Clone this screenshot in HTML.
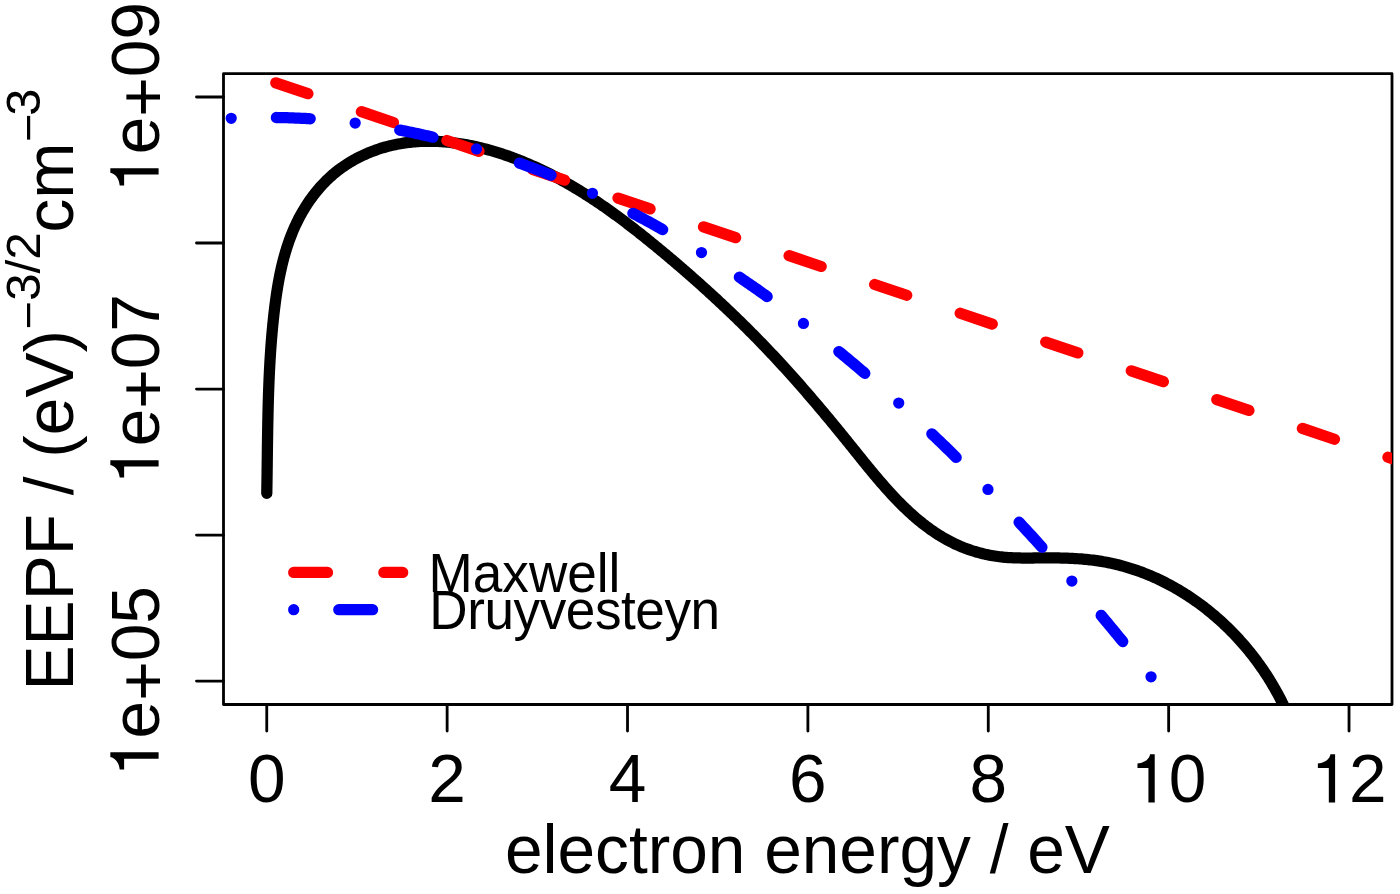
<!DOCTYPE html>
<html><head><meta charset="utf-8"><title>EEPF</title>
<style>html,body{margin:0;padding:0;background:#fff}svg{display:block}text{font-family:"Liberation Sans",sans-serif;fill:#000}</style></head><body>
<svg width="1400" height="894" viewBox="0 0 1400 894">
<rect width="1400" height="894" fill="#fff"/>
<defs><clipPath id="c"><rect x="223.50" y="73.65" width="1168.50" height="630.85"/></clipPath></defs>
<g clip-path="url(#c)" fill="none" stroke-linecap="round" stroke-linejoin="round">
<path d="M266.79 493.31 L266.82 491.60 L266.84 489.90 L266.87 488.19 L266.90 486.49 L266.93 484.78 L266.95 483.08 L266.98 481.37 L267.00 479.67 L267.03 477.97 L267.05 476.26 L267.08 474.56 L267.10 472.86 L267.12 471.15 L267.14 469.45 L267.17 467.75 L267.19 466.05 L267.21 464.35 L267.23 462.65 L267.25 460.94 L267.27 459.24 L267.29 457.54 L267.32 455.84 L267.34 454.14 L267.36 452.44 L267.38 450.75 L267.40 449.05 L267.42 447.35 L267.45 445.65 L267.47 443.95 L267.49 442.25 L267.52 440.55 L267.54 438.86 L267.57 437.16 L267.59 435.46 L267.62 433.76 L267.65 432.07 L267.67 430.37 L267.70 428.67 L267.73 426.98 L267.76 425.28 L267.79 423.59 L267.82 421.89 L267.86 420.19 L267.89 418.50 L267.93 416.80 L267.96 415.11 L268.00 413.41 L268.04 411.72 L268.08 410.02 L268.12 408.33 L268.16 406.63 L268.21 404.94 L268.25 403.24 L268.30 401.55 L268.35 399.86 L268.40 398.16 L268.45 396.47 L268.50 394.77 L268.56 393.08 L268.62 391.39 L268.68 389.69 L268.74 388.00 L268.80 386.30 L268.87 384.61 L268.93 382.92 L269.00 381.22 L269.07 379.53 L269.15 377.84 L269.22 376.14 L269.30 374.45 L269.38 372.76 L269.46 371.06 L269.55 369.37 L269.63 367.68 L269.72 365.98 L269.82 364.29 L269.91 362.60 L270.01 360.91 L270.11 359.21 L270.21 357.52 L270.32 355.83 L270.43 354.13 L270.54 352.44 L270.65 350.75 L270.77 349.05 L270.89 347.36 L271.01 345.67 L271.14 343.97 L271.27 342.28 L271.40 340.59 L271.54 338.89 L271.68 337.20 L271.82 335.51 L271.97 333.81 L272.12 332.12 L272.27 330.42 L272.43 328.73 L272.59 327.04 L272.75 325.34 L272.92 323.65 L273.09 321.95 L273.26 320.26 L273.44 318.56 L273.62 316.87 L273.81 315.17 L274.00 313.48 L274.19 311.78 L274.39 310.09 L274.59 308.39 L274.80 306.70 L275.01 305.00 L275.23 303.31 L275.45 301.62 L275.68 299.92 L275.91 298.23 L276.15 296.54 L276.40 294.85 L276.65 293.16 L276.91 291.47 L277.17 289.79 L277.44 288.10 L277.72 286.42 L278.01 284.74 L278.30 283.06 L278.60 281.38 L278.91 279.70 L279.23 278.03 L279.56 276.36 L279.89 274.69 L280.24 273.02 L280.59 271.36 L280.95 269.69 L281.32 268.04 L281.70 266.38 L282.09 264.73 L282.50 263.08 L282.91 261.43 L283.33 259.79 L283.76 258.15 L284.21 256.52 L284.66 254.89 L285.13 253.26 L285.61 251.64 L286.10 250.02 L286.60 248.40 L287.11 246.79 L287.64 245.18 L288.18 243.58 L288.73 241.99 L289.30 240.39 L289.88 238.81 L290.47 237.22 L291.08 235.65 L291.70 234.08 L292.33 232.51 L292.98 230.95 L293.64 229.39 L294.32 227.84 L295.01 226.30 L295.72 224.76 L296.45 223.23 L297.19 221.71 L297.94 220.19 L298.71 218.68 L299.50 217.17 L300.30 215.68 L301.11 214.19 L301.95 212.71 L302.79 211.24 L303.66 209.77 L304.54 208.32 L305.43 206.87 L306.34 205.44 L307.27 204.01 L308.21 202.60 L309.16 201.19 L310.14 199.80 L311.12 198.41 L312.13 197.04 L313.15 195.68 L314.18 194.33 L315.23 193.00 L316.30 191.67 L317.38 190.36 L318.48 189.06 L319.59 187.78 L320.72 186.51 L321.86 185.25 L323.02 184.01 L324.20 182.78 L325.39 181.56 L326.59 180.37 L327.82 179.18 L329.06 178.01 L330.31 176.86 L331.58 175.73 L332.87 174.61 L334.17 173.51 L335.48 172.42 L336.82 171.35 L338.17 170.30 L339.53 169.27 L340.91 168.25 L342.30 167.26 L343.71 166.28 L345.14 165.32 L346.57 164.38 L348.02 163.46 L349.48 162.55 L350.96 161.67 L352.44 160.80 L353.94 159.95 L355.44 159.12 L356.96 158.31 L358.49 157.52 L360.02 156.75 L361.56 155.99 L363.11 155.26 L364.67 154.55 L366.23 153.85 L367.80 153.18 L369.38 152.52 L370.96 151.88 L372.55 151.27 L374.14 150.67 L375.74 150.09 L377.34 149.53 L378.94 149.00 L380.54 148.48 L382.15 147.98 L383.77 147.50 L385.39 147.04 L387.01 146.59 L388.63 146.17 L390.26 145.77 L391.89 145.38 L393.52 145.01 L395.16 144.66 L396.80 144.33 L398.44 144.01 L400.08 143.72 L401.73 143.44 L403.38 143.18 L405.03 142.93 L406.69 142.70 L408.35 142.50 L410.01 142.30 L411.67 142.13 L413.33 141.97 L415.00 141.82 L416.66 141.70 L418.33 141.59 L420.00 141.49 L421.67 141.42 L423.35 141.36 L425.02 141.31 L426.70 141.28 L428.38 141.26 L430.05 141.26 L431.73 141.28 L433.41 141.31 L435.09 141.36 L436.78 141.42 L438.46 141.49 L440.14 141.58 L441.83 141.69 L443.51 141.81 L445.19 141.94 L446.88 142.09 L448.56 142.25 L450.25 142.42 L451.93 142.61 L453.62 142.81 L455.30 143.03 L456.99 143.26 L458.67 143.50 L460.35 143.75 L462.04 144.02 L463.72 144.30 L465.40 144.59 L467.08 144.90 L468.76 145.22 L470.44 145.55 L472.12 145.89 L473.79 146.24 L475.47 146.61 L477.14 146.98 L478.81 147.37 L480.48 147.77 L482.15 148.19 L483.82 148.61 L485.49 149.04 L487.15 149.49 L488.81 149.94 L490.47 150.41 L492.13 150.88 L493.78 151.37 L495.44 151.87 L497.09 152.37 L498.73 152.89 L500.38 153.42 L502.02 153.95 L503.66 154.50 L505.30 155.05 L506.93 155.62 L508.56 156.19 L510.19 156.77 L511.82 157.37 L513.44 157.97 L515.05 158.58 L516.67 159.19 L518.28 159.82 L519.89 160.45 L521.49 161.09 L523.09 161.74 L524.69 162.40 L526.28 163.07 L527.86 163.74 L529.45 164.42 L531.03 165.11 L532.60 165.80 L534.17 166.50 L535.74 167.21 L537.30 167.93 L538.85 168.65 L540.41 169.38 L541.95 170.11 L543.49 170.86 L545.03 171.60 L546.56 172.36 L548.09 173.12 L549.61 173.88 L551.13 174.65 L552.65 175.43 L554.16 176.22 L555.66 177.01 L557.16 177.80 L558.66 178.60 L560.15 179.41 L561.64 180.22 L563.12 181.04 L564.60 181.86 L566.07 182.69 L567.54 183.53 L569.01 184.37 L570.47 185.22 L571.93 186.07 L573.39 186.92 L574.84 187.78 L576.29 188.65 L577.73 189.52 L579.17 190.40 L580.61 191.28 L582.04 192.17 L583.47 193.06 L584.89 193.96 L586.32 194.86 L587.74 195.76 L589.15 196.68 L590.56 197.59 L591.97 198.51 L593.38 199.44 L594.78 200.36 L596.18 201.30 L597.58 202.24 L598.97 203.18 L600.37 204.13 L601.75 205.08 L603.14 206.03 L604.52 206.99 L605.90 207.95 L607.28 208.92 L608.65 209.89 L610.02 210.87 L611.39 211.85 L612.76 212.83 L614.12 213.82 L615.49 214.81 L616.85 215.80 L618.20 216.80 L619.56 217.80 L620.91 218.80 L622.26 219.81 L623.61 220.82 L624.96 221.84 L626.30 222.86 L627.65 223.88 L628.99 224.90 L630.33 225.93 L631.66 226.96 L633.00 228.00 L634.33 229.04 L635.66 230.08 L637.00 231.12 L638.32 232.16 L639.65 233.21 L640.98 234.26 L642.30 235.32 L643.63 236.37 L644.95 237.43 L646.27 238.50 L647.59 239.56 L648.91 240.63 L650.22 241.70 L651.54 242.77 L652.86 243.84 L654.17 244.92 L655.48 246.00 L656.80 247.08 L658.11 248.16 L659.42 249.24 L660.73 250.33 L662.04 251.42 L663.35 252.51 L664.66 253.60 L665.96 254.69 L667.27 255.79 L668.58 256.89 L669.88 257.99 L671.18 259.09 L672.49 260.19 L673.79 261.30 L675.09 262.41 L676.39 263.52 L677.69 264.63 L678.99 265.74 L680.28 266.86 L681.58 267.97 L682.88 269.09 L684.17 270.21 L685.46 271.33 L686.75 272.46 L688.04 273.58 L689.33 274.71 L690.62 275.84 L691.91 276.97 L693.19 278.10 L694.48 279.24 L695.76 280.37 L697.04 281.51 L698.32 282.65 L699.60 283.79 L700.87 284.93 L702.15 286.08 L703.42 287.22 L704.70 288.37 L705.97 289.52 L707.24 290.67 L708.51 291.82 L709.77 292.98 L711.04 294.13 L712.30 295.29 L713.56 296.45 L714.82 297.61 L716.08 298.77 L717.33 299.94 L718.59 301.10 L719.84 302.27 L721.09 303.44 L722.34 304.60 L723.59 305.78 L724.83 306.95 L726.08 308.12 L727.32 309.30 L728.56 310.48 L729.79 311.65 L731.03 312.83 L732.26 314.02 L733.49 315.20 L734.72 316.38 L735.95 317.57 L737.17 318.76 L738.40 319.95 L739.62 321.14 L740.84 322.33 L742.05 323.52 L743.27 324.71 L744.48 325.91 L745.69 327.11 L746.89 328.30 L748.10 329.50 L749.30 330.70 L750.50 331.91 L751.70 333.11 L752.89 334.31 L754.09 335.52 L755.28 336.73 L756.46 337.94 L757.65 339.15 L758.83 340.36 L760.01 341.57 L761.19 342.78 L762.36 344.00 L763.53 345.21 L764.70 346.43 L765.87 347.65 L767.03 348.87 L768.20 350.09 L769.36 351.31 L770.51 352.53 L771.67 353.76 L772.82 354.98 L773.97 356.21 L775.12 357.44 L776.27 358.67 L777.41 359.90 L778.55 361.14 L779.69 362.37 L780.83 363.61 L781.97 364.84 L783.10 366.08 L784.23 367.32 L785.36 368.56 L786.49 369.80 L787.62 371.05 L788.74 372.29 L789.87 373.54 L790.99 374.79 L792.11 376.04 L793.23 377.29 L794.34 378.54 L795.46 379.80 L796.57 381.05 L797.68 382.31 L798.79 383.57 L799.90 384.83 L801.01 386.09 L802.12 387.36 L803.22 388.62 L804.32 389.89 L805.43 391.16 L806.53 392.43 L807.63 393.70 L808.73 394.97 L809.83 396.24 L810.92 397.52 L812.02 398.80 L813.11 400.08 L814.21 401.36 L815.30 402.64 L816.39 403.93 L817.48 405.22 L818.57 406.50 L819.66 407.79 L820.75 409.08 L821.84 410.38 L822.92 411.67 L824.01 412.97 L825.10 414.27 L826.18 415.57 L827.27 416.87 L828.35 418.18 L829.44 419.48 L830.52 420.79 L831.60 422.10 L832.69 423.41 L833.77 424.72 L834.85 426.04 L835.93 427.35 L837.01 428.67 L838.09 429.99 L839.18 431.32 L840.26 432.64 L841.34 433.97 L842.42 435.29 L843.50 436.62 L844.58 437.96 L845.66 439.29 L846.74 440.63 L847.82 441.96 L848.91 443.30 L849.99 444.65 L851.07 445.99 L852.15 447.34 L853.23 448.68 L854.32 450.03 L855.40 451.38 L856.49 452.73 L857.57 454.08 L858.66 455.43 L859.75 456.78 L860.84 458.14 L861.93 459.49 L863.02 460.84 L864.11 462.19 L865.21 463.54 L866.31 464.89 L867.40 466.23 L868.51 467.58 L869.61 468.92 L870.71 470.26 L871.82 471.60 L872.93 472.94 L874.05 474.28 L875.16 475.61 L876.28 476.94 L877.40 478.26 L878.53 479.58 L879.65 480.90 L880.78 482.22 L881.92 483.53 L883.06 484.83 L884.20 486.13 L885.34 487.43 L886.49 488.72 L887.65 490.01 L888.80 491.29 L889.96 492.57 L891.13 493.83 L892.30 495.10 L893.47 496.35 L894.65 497.60 L895.84 498.85 L897.03 500.08 L898.22 501.31 L899.42 502.54 L900.62 503.75 L901.83 504.96 L903.04 506.16 L904.26 507.35 L905.49 508.53 L906.72 509.70 L907.96 510.86 L909.20 512.02 L910.45 513.16 L911.71 514.30 L912.97 515.43 L914.24 516.54 L915.51 517.65 L916.79 518.74 L918.08 519.83 L919.38 520.90 L920.68 521.97 L921.99 523.02 L923.30 524.06 L924.63 525.08 L925.96 526.10 L927.30 527.10 L928.64 528.10 L930.00 529.07 L931.36 530.04 L932.73 530.99 L934.11 531.93 L935.49 532.86 L936.89 533.77 L938.29 534.67 L939.70 535.55 L941.12 536.42 L942.55 537.28 L943.99 538.12 L945.44 538.95 L946.89 539.76 L948.36 540.55 L949.83 541.33 L951.32 542.09 L952.81 542.84 L954.31 543.57 L955.83 544.28 L957.35 544.98 L958.88 545.66 L960.43 546.32 L961.98 546.97 L963.54 547.60 L965.11 548.21 L966.70 548.80 L968.29 549.38 L969.88 549.93 L971.49 550.47 L973.10 550.99 L974.72 551.49 L976.35 551.98 L977.98 552.44 L979.62 552.89 L981.27 553.32 L982.92 553.73 L984.57 554.12 L986.23 554.49 L987.89 554.84 L989.56 555.17 L991.23 555.48 L992.91 555.78 L994.58 556.05 L996.26 556.30 L997.94 556.54 L999.62 556.75 L1001.31 556.94 L1002.99 557.12 L1004.67 557.27 L1006.36 557.41 L1008.05 557.53 L1009.74 557.64 L1011.43 557.73 L1013.12 557.80 L1014.81 557.87 L1016.50 557.92 L1018.19 557.96 L1019.89 557.99 L1021.58 558.01 L1023.28 558.03 L1024.98 558.04 L1026.67 558.04 L1028.37 558.03 L1030.07 558.02 L1031.78 558.01 L1033.48 558.00 L1035.18 557.98 L1036.89 557.96 L1038.59 557.95 L1040.30 557.93 L1042.01 557.92 L1043.72 557.91 L1045.43 557.90 L1047.14 557.90 L1048.85 557.90 L1050.56 557.90 L1052.27 557.91 L1053.98 557.92 L1055.69 557.94 L1057.40 557.96 L1059.12 557.99 L1060.83 558.02 L1062.54 558.06 L1064.25 558.11 L1065.96 558.16 L1067.67 558.22 L1069.38 558.29 L1071.08 558.36 L1072.79 558.45 L1074.49 558.54 L1076.20 558.64 L1077.90 558.75 L1079.60 558.86 L1081.30 558.99 L1083.00 559.13 L1084.69 559.28 L1086.39 559.44 L1088.08 559.61 L1089.77 559.79 L1091.45 559.98 L1093.14 560.19 L1094.82 560.41 L1096.50 560.64 L1098.18 560.88 L1099.85 561.14 L1101.52 561.41 L1103.19 561.69 L1104.85 561.99 L1106.51 562.30 L1108.17 562.62 L1109.83 562.96 L1111.48 563.31 L1113.12 563.67 L1114.77 564.05 L1116.41 564.44 L1118.05 564.84 L1119.68 565.26 L1121.31 565.69 L1122.94 566.13 L1124.56 566.58 L1126.18 567.05 L1127.79 567.53 L1129.40 568.02 L1131.01 568.53 L1132.62 569.04 L1134.21 569.57 L1135.81 570.11 L1137.40 570.67 L1138.99 571.23 L1140.57 571.81 L1142.15 572.40 L1143.72 573.00 L1145.29 573.62 L1146.86 574.24 L1148.42 574.88 L1149.97 575.53 L1151.52 576.19 L1153.07 576.86 L1154.61 577.54 L1156.15 578.24 L1157.68 578.94 L1159.21 579.66 L1160.73 580.39 L1162.25 581.13 L1163.77 581.88 L1165.27 582.64 L1166.78 583.41 L1168.27 584.20 L1169.77 584.99 L1171.25 585.79 L1172.74 586.61 L1174.21 587.43 L1175.68 588.27 L1177.15 589.12 L1178.61 589.97 L1180.07 590.84 L1181.51 591.72 L1182.96 592.61 L1184.40 593.50 L1185.83 594.41 L1187.26 595.33 L1188.68 596.26 L1190.09 597.19 L1191.50 598.14 L1192.90 599.10 L1194.30 600.06 L1195.69 601.04 L1197.08 602.03 L1198.45 603.02 L1199.83 604.02 L1201.19 605.04 L1202.55 606.06 L1203.91 607.09 L1205.25 608.13 L1206.59 609.18 L1207.93 610.24 L1209.25 611.31 L1210.58 612.38 L1211.89 613.47 L1213.20 614.56 L1214.50 615.66 L1215.79 616.77 L1217.08 617.89 L1218.36 619.02 L1219.63 620.16 L1220.90 621.30 L1222.16 622.45 L1223.41 623.61 L1224.65 624.78 L1225.89 625.96 L1227.12 627.14 L1228.34 628.33 L1229.56 629.53 L1230.77 630.74 L1231.97 631.96 L1233.16 633.18 L1234.35 634.41 L1235.53 635.65 L1236.70 636.89 L1237.86 638.14 L1239.01 639.40 L1240.16 640.67 L1241.30 641.94 L1242.43 643.22 L1243.55 644.51 L1244.67 645.80 L1245.78 647.11 L1246.88 648.41 L1247.97 649.73 L1249.05 651.05 L1250.12 652.38 L1251.19 653.71 L1252.25 655.05 L1253.30 656.40 L1254.34 657.75 L1255.37 659.11 L1256.39 660.48 L1257.41 661.85 L1258.42 663.23 L1259.41 664.61 L1260.40 666.00 L1261.38 667.39 L1262.36 668.79 L1263.32 670.20 L1264.27 671.61 L1265.22 673.03 L1266.15 674.45 L1267.08 675.88 L1268.00 677.32 L1268.90 678.76 L1269.80 680.20 L1270.69 681.65 L1271.57 683.10 L1272.44 684.56 L1273.30 686.03 L1274.16 687.50 L1275.00 688.97 L1275.83 690.45 L1276.66 691.93 L1277.47 693.42 L1278.27 694.91 L1279.07 696.41 L1279.85 697.91 L1280.62 699.41 L1281.39 700.92 L1282.14 702.44 L1282.89 703.95 L1283.62 705.48 L1284.34 707.00 L1285.06 708.53 L1285.76 710.06 L1286.46 711.60 L1287.14 713.14 L1287.81 714.69 L1288.47 716.23 L1289.12 717.79 L1289.76 719.34 L1290.40 720.90 L1291.01 722.46 L1291.62 724.02" stroke="#000" stroke-width="11.27"/>
</g>
<g stroke="#000" stroke-width="2.82" stroke-linecap="round" fill="none">
<line x1="266.75" y1="704.50" x2="266.75" y2="731.10"/>
<line x1="447.13" y1="704.50" x2="447.13" y2="731.10"/>
<line x1="627.51" y1="704.50" x2="627.51" y2="731.10"/>
<line x1="807.89" y1="704.50" x2="807.89" y2="731.10"/>
<line x1="988.27" y1="704.50" x2="988.27" y2="731.10"/>
<line x1="1168.65" y1="704.50" x2="1168.65" y2="731.10"/>
<line x1="1349.03" y1="704.50" x2="1349.03" y2="731.10"/>
<line x1="223.50" y1="97.00" x2="196.50" y2="97.00"/>
<line x1="223.50" y1="243.03" x2="196.50" y2="243.03"/>
<line x1="223.50" y1="389.06" x2="196.50" y2="389.06"/>
<line x1="223.50" y1="535.09" x2="196.50" y2="535.09"/>
<line x1="223.50" y1="681.12" x2="196.50" y2="681.12"/>
<rect x="223.50" y="73.65" width="1168.50" height="630.85" stroke-linejoin="round"/>
</g>
<g clip-path="url(#c)" fill="none" stroke-linecap="round" stroke-linejoin="round" stroke-width="11.27">
<line x1="275.80" y1="82.90" x2="1420.00" y2="468.04" stroke="#f00" stroke-dasharray="33.849 56.415"/>
<path d="M231.20 118.33 L233.20 118.24 L235.20 118.14 L237.20 118.05 L239.20 117.97 L241.20 117.90 L243.20 117.83 L245.20 117.76 L247.20 117.70 L249.20 117.65 L251.20 117.60 L253.20 117.56 L255.20 117.53 L257.20 117.50 L259.20 117.47 L261.20 117.45 L263.20 117.44 L265.20 117.43 L267.20 117.43 L269.20 117.43 L271.20 117.44 L273.20 117.46 L275.20 117.48 L277.20 117.51 L279.20 117.54 L281.20 117.58 L283.20 117.62 L285.20 117.67 L287.20 117.73 L289.20 117.79 L291.20 117.86 L293.20 117.93 L295.20 118.01 L297.20 118.09 L299.20 118.18 L301.20 118.28 L303.20 118.38 L305.20 118.49 L307.20 118.60 L309.20 118.72 L311.20 118.84 L313.20 118.97 L315.20 119.11 L317.20 119.25 L319.20 119.40 L321.20 119.55 L323.20 119.71 L325.20 119.87 L327.20 120.04 L329.20 120.22 L331.20 120.40 L333.20 120.59 L335.20 120.78 L337.20 120.98 L339.20 121.18 L341.20 121.39 L343.20 121.61 L345.20 121.83 L347.20 122.06 L349.20 122.29 L351.20 122.53 L353.20 122.78 L355.20 123.03 L357.20 123.28 L359.20 123.54 L361.20 123.81 L363.20 124.08 L365.20 124.36 L367.20 124.65 L369.20 124.94 L371.20 125.23 L373.20 125.54 L375.20 125.84 L377.20 126.16 L379.20 126.47 L381.20 126.80 L383.20 127.13 L385.20 127.47 L387.20 127.81 L389.20 128.15 L391.20 128.51 L393.20 128.87 L395.20 129.23 L397.20 129.60 L399.20 129.98 L401.20 130.36 L403.20 130.75 L405.20 131.14 L407.20 131.54 L409.20 131.94 L411.20 132.35 L413.20 132.77 L415.20 133.19 L417.20 133.62 L419.20 134.05 L421.20 134.49 L423.20 134.94 L425.20 135.39 L427.20 135.84 L429.20 136.31 L431.20 136.77 L433.20 137.25 L435.20 137.73 L437.20 138.21 L439.20 138.70 L441.20 139.20 L443.20 139.70 L445.20 140.21 L447.20 140.72 L449.20 141.24 L451.20 141.76 L453.20 142.30 L455.20 142.83 L457.20 143.37 L459.20 143.92 L461.20 144.47 L463.20 145.03 L465.20 145.60 L467.20 146.17 L469.20 146.75 L471.20 147.33 L473.20 147.92 L475.20 148.51 L477.20 149.11 L479.20 149.71 L481.20 150.32 L483.20 150.94 L485.20 151.56 L487.20 152.19 L489.20 152.82 L491.20 153.46 L493.20 154.11 L495.20 154.76 L497.20 155.42 L499.20 156.08 L501.20 156.75 L503.20 157.42 L505.20 158.10 L507.20 158.78 L509.20 159.48 L511.20 160.17 L513.20 160.87 L515.20 161.58 L517.20 162.30 L519.20 163.01 L521.20 163.74 L523.20 164.47 L525.20 165.21 L527.20 165.95 L529.20 166.70 L531.20 167.45 L533.20 168.21 L535.20 168.98 L537.20 169.75 L539.20 170.52 L541.20 171.31 L543.20 172.09 L545.20 172.89 L547.20 173.69 L549.20 174.49 L551.20 175.30 L553.20 176.12 L555.20 176.94 L557.20 177.77 L559.20 178.60 L561.20 179.44 L563.20 180.29 L565.20 181.14 L567.20 182.00 L569.20 182.86 L571.20 183.73 L573.20 184.60 L575.20 185.48 L577.20 186.37 L579.20 187.26 L581.20 188.16 L583.20 189.06 L585.20 189.97 L587.20 190.88 L589.20 191.80 L591.20 192.72 L593.20 193.66 L595.20 194.59 L597.20 195.54 L599.20 196.48 L601.20 197.44 L603.20 198.40 L605.20 199.36 L607.20 200.33 L609.20 201.31 L611.20 202.29 L613.20 203.28 L615.20 204.28 L617.20 205.28 L619.20 206.28 L621.20 207.29 L623.20 208.31 L625.20 209.33 L627.20 210.36 L629.20 211.40 L631.20 212.43 L633.20 213.48 L635.20 214.53 L637.20 215.59 L639.20 216.65 L641.20 217.72 L643.20 218.79 L645.20 219.87 L647.20 220.96 L649.20 222.05 L651.20 223.15 L653.20 224.25 L655.20 225.36 L657.20 226.47 L659.20 227.59 L661.20 228.72 L663.20 229.85 L665.20 230.99 L667.20 232.13 L669.20 233.28 L671.20 234.43 L673.20 235.59 L675.20 236.76 L677.20 237.93 L679.20 239.11 L681.20 240.29 L683.20 241.48 L685.20 242.67 L687.20 243.87 L689.20 245.08 L691.20 246.29 L693.20 247.51 L695.20 248.73 L697.20 249.96 L699.20 251.19 L701.20 252.43 L703.20 253.68 L705.20 254.93 L707.20 256.19 L709.20 257.45 L711.20 258.72 L713.20 260.00 L715.20 261.28 L717.20 262.56 L719.20 263.85 L721.20 265.15 L723.20 266.45 L725.20 267.76 L727.20 269.08 L729.20 270.40 L731.20 271.72 L733.20 273.06 L735.20 274.39 L737.20 275.74 L739.20 277.08 L741.20 278.44 L743.20 279.80 L745.20 281.17 L747.20 282.54 L749.20 283.91 L751.20 285.30 L753.20 286.69 L755.20 288.08 L757.20 289.48 L759.20 290.89 L761.20 292.30 L763.20 293.72 L765.20 295.14 L767.20 296.57 L769.20 298.00 L771.20 299.44 L773.20 300.89 L775.20 302.34 L777.20 303.80 L779.20 305.26 L781.20 306.73 L783.20 308.21 L785.20 309.69 L787.20 311.17 L789.20 312.67 L791.20 314.16 L793.20 315.67 L795.20 317.18 L797.20 318.69 L799.20 320.21 L801.20 321.74 L803.20 323.27 L805.20 324.81 L807.20 326.35 L809.20 327.90 L811.20 329.45 L813.20 331.02 L815.20 332.58 L817.20 334.15 L819.20 335.73 L821.20 337.31 L823.20 338.90 L825.20 340.50 L827.20 342.10 L829.20 343.71 L831.20 345.32 L833.20 346.94 L835.20 348.56 L837.20 350.19 L839.20 351.82 L841.20 353.46 L843.20 355.11 L845.20 356.76 L847.20 358.42 L849.20 360.08 L851.20 361.75 L853.20 363.43 L855.20 365.11 L857.20 366.80 L859.20 368.49 L861.20 370.19 L863.20 371.89 L865.20 373.60 L867.20 375.31 L869.20 377.03 L871.20 378.76 L873.20 380.49 L875.20 382.23 L877.20 383.97 L879.20 385.72 L881.20 387.48 L883.20 389.24 L885.20 391.01 L887.20 392.78 L889.20 394.56 L891.20 396.34 L893.20 398.13 L895.20 399.93 L897.20 401.73 L899.20 403.53 L901.20 405.35 L903.20 407.16 L905.20 408.99 L907.20 410.82 L909.20 412.65 L911.20 414.49 L913.20 416.34 L915.20 418.19 L917.20 420.05 L919.20 421.91 L921.20 423.78 L923.20 425.66 L925.20 427.54 L927.20 429.43 L929.20 431.32 L931.20 433.22 L933.20 435.12 L935.20 437.03 L937.20 438.95 L939.20 440.87 L941.20 442.79 L943.20 444.73 L945.20 446.66 L947.20 448.61 L949.20 450.56 L951.20 452.51 L953.20 454.47 L955.20 456.44 L957.20 458.41 L959.20 460.39 L961.20 462.38 L963.20 464.37 L965.20 466.36 L967.20 468.36 L969.20 470.37 L971.20 472.38 L973.20 474.40 L975.20 476.43 L977.20 478.45 L979.20 480.49 L981.20 482.53 L983.20 484.58 L985.20 486.63 L987.20 488.69 L989.20 490.75 L991.20 492.82 L993.20 494.90 L995.20 496.98 L997.20 499.07 L999.20 501.16 L1001.20 503.26 L1003.20 505.36 L1005.20 507.47 L1007.20 509.59 L1009.20 511.71 L1011.20 513.84 L1013.20 515.97 L1015.20 518.11 L1017.20 520.25 L1019.20 522.40 L1021.20 524.56 L1023.20 526.72 L1025.20 528.89 L1027.20 531.06 L1029.20 533.24 L1031.20 535.42 L1033.20 537.61 L1035.20 539.81 L1037.20 542.01 L1039.20 544.22 L1041.20 546.43 L1043.20 548.65 L1045.20 550.87 L1047.20 553.10 L1049.20 555.34 L1051.20 557.58 L1053.20 559.83 L1055.20 562.08 L1057.20 564.34 L1059.20 566.60 L1061.20 568.87 L1063.20 571.15 L1065.20 573.43 L1067.20 575.72 L1069.20 578.01 L1071.20 580.31 L1073.20 582.61 L1075.20 584.92 L1077.20 587.24 L1079.20 589.56 L1081.20 591.89 L1083.20 594.22 L1085.20 596.56 L1087.20 598.91 L1089.20 601.26 L1091.20 603.61 L1093.20 605.97 L1095.20 608.34 L1097.20 610.71 L1099.20 613.09 L1101.20 615.48 L1103.20 617.87 L1105.20 620.26 L1107.20 622.67 L1109.20 625.07 L1111.20 627.49 L1113.20 629.90 L1115.20 632.33 L1117.20 634.76 L1119.20 637.20 L1121.20 639.64 L1123.20 642.09 L1125.20 644.54 L1127.20 647.00 L1129.20 649.46 L1131.20 651.93 L1133.20 654.41 L1135.20 656.89 L1137.20 659.38 L1139.20 661.87 L1141.20 664.37 L1143.20 666.88 L1145.20 669.39 L1147.20 671.90 L1149.20 674.42 L1151.20 676.95 L1153.20 679.48 L1155.20 682.02 L1157.20 684.57 L1159.20 687.12 L1161.20 689.68 L1163.20 692.24 L1165.20 694.80 L1167.20 697.38 L1169.20 699.96 L1171.20 702.54 L1173.20 705.13 L1175.20 707.73 L1177.20 710.33 L1179.20 712.94 L1181.20 715.55 L1183.20 718.17 L1185.20 720.80 L1187.20 723.43 L1189.20 726.06 L1191.20 728.71 L1193.20 731.35 L1195.20 734.01 L1197.20 736.67 L1199.20 739.33 L1201.20 742.00 L1203.20 744.68 L1205.20 747.36 L1207.20 750.05 L1209.20 752.74 L1211.20 755.44 L1213.20 758.15" stroke="#00f" stroke-dasharray="0 45.17 33.88 45.17"/>
</g>
<g fill="none" stroke-linecap="round" stroke-width="11.27">
<line x1="293.7" y1="572.4" x2="402.7" y2="572.4" stroke="#f00" stroke-dasharray="33.81 56.35"/>
<line x1="293.7" y1="609.7" x2="402.7" y2="609.7" stroke="#00f" stroke-dasharray="0 45.08 33.81 45.08"/>
</g>
<text transform="translate(428.6 591.7) scale(1 1.03)" font-size="53.1">Maxwell</text>
<text transform="translate(429.3 628.6) scale(1 1.03)" font-size="53.1" letter-spacing="-0.43">Druyvesteyn</text>
<text transform="translate(266.75 802.4) scale(1 1.02)" font-size="67.6" text-anchor="middle">0</text>
<text transform="translate(447.13 802.4) scale(1 1.02)" font-size="67.6" text-anchor="middle">2</text>
<text transform="translate(627.51 802.4) scale(1 1.02)" font-size="67.6" text-anchor="middle">4</text>
<text transform="translate(807.89 802.4) scale(1 1.02)" font-size="67.6" text-anchor="middle">6</text>
<text transform="translate(988.27 802.4) scale(1 1.02)" font-size="67.6" text-anchor="middle">8</text>
<path transform="translate(1131.06 802.40) scale(0.06760 -0.06760)" d="M350 0L350 714L282 714C270 650 215 590 95 575L95 510L257 510L257 0Z"/><text transform="translate(1168.65 802.4) scale(1 1.02)" font-size="67.6">0</text>
<path transform="translate(1311.44 802.40) scale(0.06760 -0.06760)" d="M350 0L350 714L282 714C270 650 215 590 95 575L95 510L257 510L257 0Z"/><text transform="translate(1349.03 802.4) scale(1 1.02)" font-size="67.6">2</text>
<text x="807.4" y="873.2" font-size="67.6" text-anchor="middle">electron energy / eV</text>
<g transform="translate(158.6 97.00) rotate(-90)"><path transform="translate(-94.91 0.00) scale(0.06760 -0.06760)" d="M350 0L350 714L282 714C270 650 215 590 95 575L95 510L257 510L257 0Z"/><text x="-57.32" y="0" font-size="67.6">e<tspan dy="7.0" dx="0.0">+</tspan><tspan dy="-7.0" dx="-0.0">09</tspan></text></g>
<g transform="translate(158.6 389.06) rotate(-90)"><path transform="translate(-94.91 0.00) scale(0.06760 -0.06760)" d="M350 0L350 714L282 714C270 650 215 590 95 575L95 510L257 510L257 0Z"/><text x="-57.32" y="0" font-size="67.6">e<tspan dy="7.0" dx="0.0">+</tspan><tspan dy="-7.0" dx="-0.0">07</tspan></text></g>
<g transform="translate(158.6 681.12) rotate(-90)"><path transform="translate(-94.91 0.00) scale(0.06760 -0.06760)" d="M350 0L350 714L282 714C270 650 215 590 95 575L95 510L257 510L257 0Z"/><text x="-57.32" y="0" font-size="67.6">e<tspan dy="7.0" dx="0.0">+</tspan><tspan dy="-7.0" dx="-0.0">05</tspan></text></g>
<g transform="translate(73.3 689.5) rotate(-90)">
<text transform="translate(-1 0) scale(1 1.02)" font-size="67.6">EEPF / (eV)</text>
<rect x="362.4" y="-46.3" width="23.7" height="3.2"/>
<text transform="translate(388.4 -33.3) scale(1.05 1)" font-size="47.3">3/2</text>
<text x="457" y="0" font-size="67.6">cm</text>
<rect x="549.9" y="-46.3" width="23.7" height="3.2"/>
<text transform="translate(573.8 -33.3) scale(1.03 1)" font-size="47.3">3</text>
</g>
</svg></body></html>
